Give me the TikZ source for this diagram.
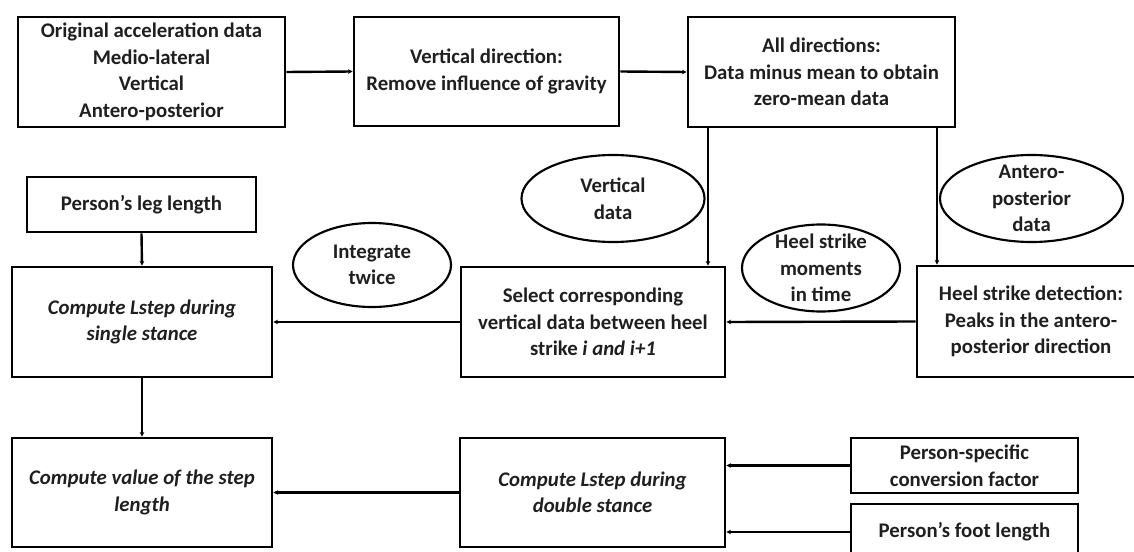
\documentclass[tikz,border=0pt]{standalone}
\usepackage{fontspec}
\setmainfont{Carlito}
\usetikzlibrary{arrows.meta,shapes.geometric,calc}
\begin{document}
\begin{tikzpicture}[x=0.75pt,y=-0.75pt,
  txt/.style={font=\fontsize{15.6}{19.9}\selectfont\bfseries, align=center, text=black!88},
  box/.style={txt, draw, line width=2.1pt, inner sep=0pt},
  oval/.style={draw, ellipse, line width=1.6pt, inner sep=0pt},
  arr/.style={line width=1.8pt, -{Stealth[length=3.5pt,width=3.5pt]}}]
\useasboundingbox (0,0) rectangle (1134,552);
% row 1
\node[box, minimum width=200.25pt, minimum height=82.5pt] (orig) at (151.5,72)
  {Original acceleration data\\Medio-lateral\\Vertical\\Antero-posterior};
\node[box, minimum width=198.75pt, minimum height=81.75pt] (grav) at (486.5,71.5)
  {Vertical direction:\\Remove influence of gravity};
\node[box, minimum width=200.25pt, minimum height=82.5pt] (zero) at (821.5,72)
  {All directions:\\Data minus mean to obtain\\zero-mean data};
% row 2
\node[box, minimum width=171.75pt, minimum height=41.25pt] (leg) at (141.5,204.5)
  {Person’s leg length};
\node[box, minimum width=195pt, minimum height=82.5pt] (single) at (142,322)
  {\itshape Compute Lstep during\\\itshape single stance};
\node[box, minimum width=198pt, minimum height=82.5pt] (sel) at (593,322)
  {Select corresponding\\vertical data between heel\\strike \textit{i and i+1}};
\node[box, minimum width=171pt, minimum height=83.25pt] (det) at (1031,321.5)
  {Heel strike detection:\\Peaks in the antero-\\posterior direction};
% ellipses
\node[oval, minimum width=118.5pt, minimum height=63pt] (intg) at (372,265) {};
\node[txt] (intgt) at (intg) {Integrate\\twice};
\node[oval, minimum width=137.25pt, minimum height=65.25pt] (vdat) at (613,198.5) {};
\node[txt] (vdatt) at (vdat) {Vertical\\data};
\node[oval, minimum width=118.5pt, minimum height=65.25pt] (hsm) at (821,268) {};
\node[txt] (hsmt) at (hsm) {Heel strike\\moments\\in time};
\node[oval, minimum width=137.25pt, minimum height=65.25pt] (apd) at (1031.5,198.5) {};
\node[txt] (apdt) at (apd) {Antero-\\posterior\\data};
% row 3
\node[box, minimum width=195pt, minimum height=81.75pt] (val) at (142,492.5)
  {\itshape Compute value of the step\\\itshape length};
\node[box, minimum width=198.75pt, minimum height=81.75pt] (dbl) at (592.5,492.5)
  {\itshape Compute Lstep during\\\itshape double stance};
\node[box, minimum width=170.25pt, minimum height=41.25pt] (conv) at (964.5,465.5)
  {Person-specific\\conversion factor};
\node[box, minimum width=170.25pt, minimum height=42pt] (foot) at (964.5,532)
  {Person’s foot length};
% connectors
\draw[arr] (orig.east) -- (grav.west);
\draw[arr] (grav.east) -- (zero.west);
\draw[arr] (zero.south -| 708,0) -- (sel.north -| 708,0);
\draw[arr] (zero.south -| 937,0) -- (det.north -| 937,0);
\draw[arr] (leg.south) -- (single.north);
\draw[arr] (sel.west) -- (single.east);
\draw[arr] (det.west) -- (sel.east);
\draw[arr] (single.south) -- (val.north);
\draw[arr] (dbl.west) -- (val.east);
\draw[arr] (conv.west) -- (conv.west -| dbl.east);
\draw[arr] (foot.west) -- (foot.west -| dbl.east);
\end{tikzpicture}
\end{document}
